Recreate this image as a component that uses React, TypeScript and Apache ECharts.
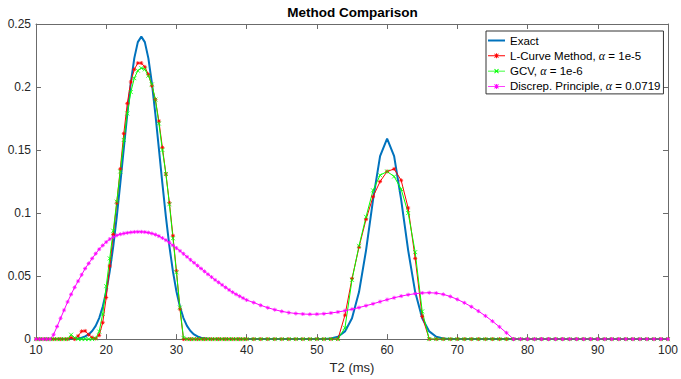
import React, { useEffect, useRef } from "react";
import * as echarts from "echarts";

// T2 sample positions (ms)
const T2 = [
  10, 10.5, 11, 11.5, 12, 12.5, 13, 13.5, 14, 14.5,
  15, 15.5, 16, 16.5, 17, 17.5, 18, 18.5, 19, 19.5,
  20, 20.5, 21, 21.5, 22, 22.5, 23, 23.5, 24, 24.5,
  25, 25.5, 26, 26.5, 27, 27.5, 28, 28.5, 29, 29.5,
  30, 30.5, 31, 31.5, 32, 32.5, 33, 33.5, 34, 34.5,
  35, 35.5, 36, 36.5, 37, 37.5, 38, 38.5, 39, 39.5,
  40,
  41, 42, 43, 44, 45, 46, 47, 48, 49, 50,
  51, 52, 53, 54, 55, 56, 57, 58, 59, 60,
  61, 62, 63, 64, 65, 66, 67, 68, 69, 70,
  71, 72, 73, 74, 75, 76, 77, 78, 79, 80,
  81, 82, 83, 84, 85, 86, 87, 88, 89, 90,
  91, 92, 93, 94, 95, 96, 97, 98, 99, 100,
];

const exact = [
  0, 0, 0, 0, 0, 0, 0, 0, 0, 0,
  0, 0.0003, 0.0006, 0.0011, 0.0021, 0.0037, 0.0064, 0.0105, 0.0167, 0.0256,
  0.0378, 0.0537, 0.0735, 0.097, 0.1233, 0.1512, 0.1785, 0.2032, 0.2229, 0.2356,
  0.24, 0.2356, 0.2229, 0.2032, 0.1785, 0.1512, 0.1233, 0.097, 0.0735, 0.0537,
  0.0378, 0.0256, 0.0167, 0.0105, 0.0064, 0.0037, 0.0021, 0.0011, 0.0006, 0.0003,
  0, 0, 0, 0, 0, 0, 0, 0, 0, 0,
  0,
  0, 0, 0, 0, 0, 0, 0, 0, 0, 0,
  0.0001, 0.0005, 0.0019, 0.0061, 0.0165, 0.0373, 0.0704, 0.1107, 0.1452, 0.159,
  0.1452, 0.1107, 0.0704, 0.0373, 0.0165, 0.0061, 0.0019, 0.0005, 0.0001, 0,
  0, 0, 0, 0, 0, 0, 0, 0, 0, 0,
  0, 0, 0, 0, 0, 0, 0, 0, 0, 0,
  0, 0, 0, 0, 0, 0, 0, 0, 0, 0,
];

const lCurve = [
  0, 0, 0, 0, 0, 0, 0, 0, 0, 0,
  0.0012, 0, 0.0025, 0.0062, 0.0065, 0.0035, 0.0012, 0.0005, 0.003, 0.013,
  0.033, 0.058, 0.083, 0.108, 0.135, 0.163, 0.187, 0.204, 0.214, 0.219,
  0.219, 0.216, 0.21, 0.201, 0.19, 0.173, 0.152, 0.131, 0.108, 0.082,
  0.054, 0.024, 0, 0, 0, 0, 0, 0, 0, 0,
  0, 0, 0, 0, 0, 0, 0, 0, 0, 0,
  0,
  0, 0, 0, 0, 0, 0, 0, 0, 0, 0,
  0, 0, 0, 0.019, 0.048, 0.073, 0.095, 0.113, 0.125, 0.133,
  0.135, 0.126, 0.104, 0.064, 0.018, 0, 0, 0, 0, 0,
  0, 0, 0, 0, 0, 0, 0, 0, 0, 0,
  0, 0, 0, 0, 0, 0, 0, 0, 0, 0,
  0, 0, 0, 0, 0, 0, 0, 0, 0, 0,
];

const gcv = [
  0, 0, 0, 0, 0, 0, 0, 0, 0, 0,
  0.0035, 0.001, 0, 0, 0, 0, 0, 0.0005, 0.006, 0.02,
  0.042, 0.064, 0.086, 0.109, 0.133, 0.158, 0.179, 0.196, 0.207, 0.213,
  0.215, 0.214, 0.209, 0.202, 0.19, 0.171, 0.15, 0.131, 0.107, 0.08,
  0.053, 0.025, 0.001, 0, 0, 0, 0, 0, 0, 0,
  0, 0, 0, 0, 0, 0, 0, 0, 0, 0,
  0,
  0, 0, 0, 0, 0, 0, 0, 0, 0, 0,
  0, 0, 0, 0.009, 0.047, 0.074, 0.097, 0.118, 0.13, 0.133,
  0.129, 0.119, 0.1, 0.069, 0.022, 0, 0, 0, 0, 0,
  0, 0, 0, 0, 0, 0, 0, 0, 0, 0,
  0, 0, 0, 0, 0, 0, 0, 0, 0, 0,
  0, 0, 0, 0, 0, 0, 0, 0, 0, 0,
];

const discrep = [
  0, 0, 0, 0, 0, 0.0035, 0.01, 0.0165, 0.023, 0.0295,
  0.0355, 0.041, 0.046, 0.051, 0.056, 0.06, 0.064, 0.0678, 0.0713, 0.0743,
  0.077, 0.0793, 0.081, 0.0823, 0.0832, 0.0838, 0.0843, 0.0847, 0.085, 0.0851,
  0.0851, 0.0849, 0.0845, 0.0838, 0.0829, 0.0817, 0.0802, 0.0785, 0.0765, 0.0744,
  0.0722, 0.07, 0.0677, 0.0653, 0.0629, 0.0606, 0.0583, 0.056, 0.0537, 0.0514,
  0.0492, 0.047, 0.045, 0.043, 0.041, 0.039, 0.0372, 0.0355, 0.034, 0.0325,
  0.031,
  0.029, 0.0268, 0.0249, 0.0233, 0.022, 0.021, 0.0203, 0.0199, 0.0197, 0.0198,
  0.0201, 0.0207, 0.0215, 0.0225, 0.0237, 0.025, 0.0265, 0.028, 0.0297, 0.0313,
  0.0328, 0.0341, 0.0352, 0.036, 0.0366, 0.0368, 0.0365, 0.0355, 0.0338, 0.0315,
  0.0288, 0.0257, 0.0222, 0.0184, 0.0142, 0.0097, 0.005, 0, 0, 0,
  0, 0, 0, 0, 0, 0, 0, 0, 0, 0,
  0, 0, 0, 0, 0, 0, 0, 0, 0, 0,
];

const SERIES_NAMES = [
  "Exact",
  "L-Curve Method, α = 1e-5",
  "GCV, α = 1e-6",
  "Discrep. Principle, α = 0.0719",
];
const TITLE = "Method Comparison";
const X_NAME = "T2 (ms)";

const FONT = "'Liberation Sans', Arial, Helvetica, sans-serif";
const AXIS_LINE = "#6b6b6b";
const AXIS_TEXT = "#262626";

// chart marker shapes (stroked)
const STAR = "path://M0,3L6,3M3,0L3,6M1,1L5,5M5,1L1,5";
const CROSS = "path://M0,0L6,6M6,0L0,6";

// legend icons (filled shapes: line segment + marker), 17 x 5 box
const ICON_LINE = "path://M0,5H17V7H0Z";
const BAR = "M0,5.55H17V6.45H0Z";
const VERT = "M8.05,3.5H8.95V8.5H8.05Z";
const D1 = "M6.2,4.3L6.8,3.7L10.8,7.7L10.2,8.3Z";
const D2 = "M10.2,3.7L10.8,4.3L6.8,8.3L6.2,7.7Z";
const ICON_STAR = "path://" + BAR + VERT + D1 + D2;
const ICON_CROSS = "path://" + BAR + D1 + D2;

function pairs(vals: number[]) {
  return T2.map((t, i) => [t, vals[i]]);
}

export default function App() {
  const ref = useRef<HTMLDivElement>(null);
  useEffect(() => {
    if (!ref.current) return;
    const chart = echarts.init(ref.current, undefined, { renderer: "svg" });
    const xCommon = {
      type: "value",
      min: 10,
      max: 100,
      interval: 10,
      splitLine: { show: false },
      axisLine: { show: true, onZero: false, lineStyle: { color: AXIS_LINE, width: 1 } },
      axisTick: { show: true, inside: true, length: 5, lineStyle: { color: AXIS_LINE } },
    };
    const yCommon = {
      type: "value",
      min: 0,
      max: 0.25,
      interval: 0.05,
      splitLine: { show: false },
      axisLine: { show: true, onZero: false, lineStyle: { color: AXIS_LINE, width: 1 } },
      axisTick: { show: true, inside: true, length: 5, lineStyle: { color: AXIS_LINE } },
    };
    const markerSeries = (name: string, vals: number[], color: string, symbol: string) => ({
      name,
      type: "line",
      data: pairs(vals),
      symbol,
      symbolSize: 4,
      showSymbol: true,
      showAllSymbol: true,
      lineStyle: { color, width: 1 },
      itemStyle: { color, borderColor: color, borderWidth: 0.8 },
      emphasis: { disabled: true },
      silent: true,
    });
    chart.setOption({
      animation: false,
      backgroundColor: "#ffffff",
      graphic: [
        {
          type: "text",
          x: 352.5,
          y: 12.5,
          style: {
            text: TITLE,
            align: "center",
            verticalAlign: "middle",
            fontSize: 13.5,
            fontWeight: "bold",
            fontFamily: FONT,
            fill: "#000",
          },
        },
      ],
      grid: { left: 36, right: 12, top: 24, bottom: 38 },
      xAxis: [
        {
          ...xCommon,
          position: "bottom",
          name: X_NAME,
          nameLocation: "middle",
          nameGap: 13,
          nameTextStyle: { fontSize: 13, color: AXIS_TEXT, fontFamily: FONT },
          axisLabel: { fontSize: 12, color: AXIS_TEXT, fontFamily: FONT, margin: 5 },
        },
        { ...xCommon, position: "top", axisLabel: { show: false } },
      ],
      yAxis: [
        {
          ...yCommon,
          position: "left",
          axisLabel: { fontSize: 12, color: AXIS_TEXT, fontFamily: FONT, margin: 5 },
        },
        { ...yCommon, position: "right", axisLabel: { show: false } },
      ],
      legend: {
        orient: "vertical",
        left: 486,
        top: 31,
        data: [
          { name: SERIES_NAMES[0], icon: ICON_LINE },
          { name: SERIES_NAMES[1], icon: ICON_STAR },
          { name: SERIES_NAMES[2], icon: ICON_CROSS },
          { name: SERIES_NAMES[3], icon: ICON_STAR },
        ],
        selectedMode: false,
        symbolKeepAspect: true,
        backgroundColor: "#ffffff",
        borderColor: "#333333",
        borderWidth: 1,
        borderRadius: 0,
        padding: [2, 3, 0, 2],
        itemGap: 0.3,
        itemWidth: 17,
        itemHeight: 5,
        itemStyle: { borderWidth: 0 },
        formatter: (name: string) => name.replace("α", "{a|α}"),
        textStyle: {
          fontSize: 11.5,
          lineHeight: 15,
          color: "#000",
          fontFamily: FONT,
          rich: {
            a: {
              fontSize: 12,
              lineHeight: 15,
              color: "#000",
              fontFamily: "'Liberation Serif', 'DejaVu Serif', serif",
              fontStyle: "italic",
            },
          },
        },
      },
      series: [
        {
          name: SERIES_NAMES[0],
          type: "line",
          data: pairs(exact),
          symbol: "none",
          lineStyle: { color: "#0072BD", width: 2 },
          itemStyle: { color: "#0072BD" },
          emphasis: { disabled: true },
          silent: true,
        },
        markerSeries(SERIES_NAMES[1], lCurve, "#FF0000", STAR),
        markerSeries(SERIES_NAMES[2], gcv, "#00FF00", CROSS),
        markerSeries(SERIES_NAMES[3], discrep, "#FF00FF", STAR),
      ],
    });
    return () => chart.dispose();
  }, []);
  return (
    <div
      ref={ref}
      style={{ position: "fixed", left: 0, top: 0, width: 681, height: 379, background: "#fff" }}
    />
  );
}
